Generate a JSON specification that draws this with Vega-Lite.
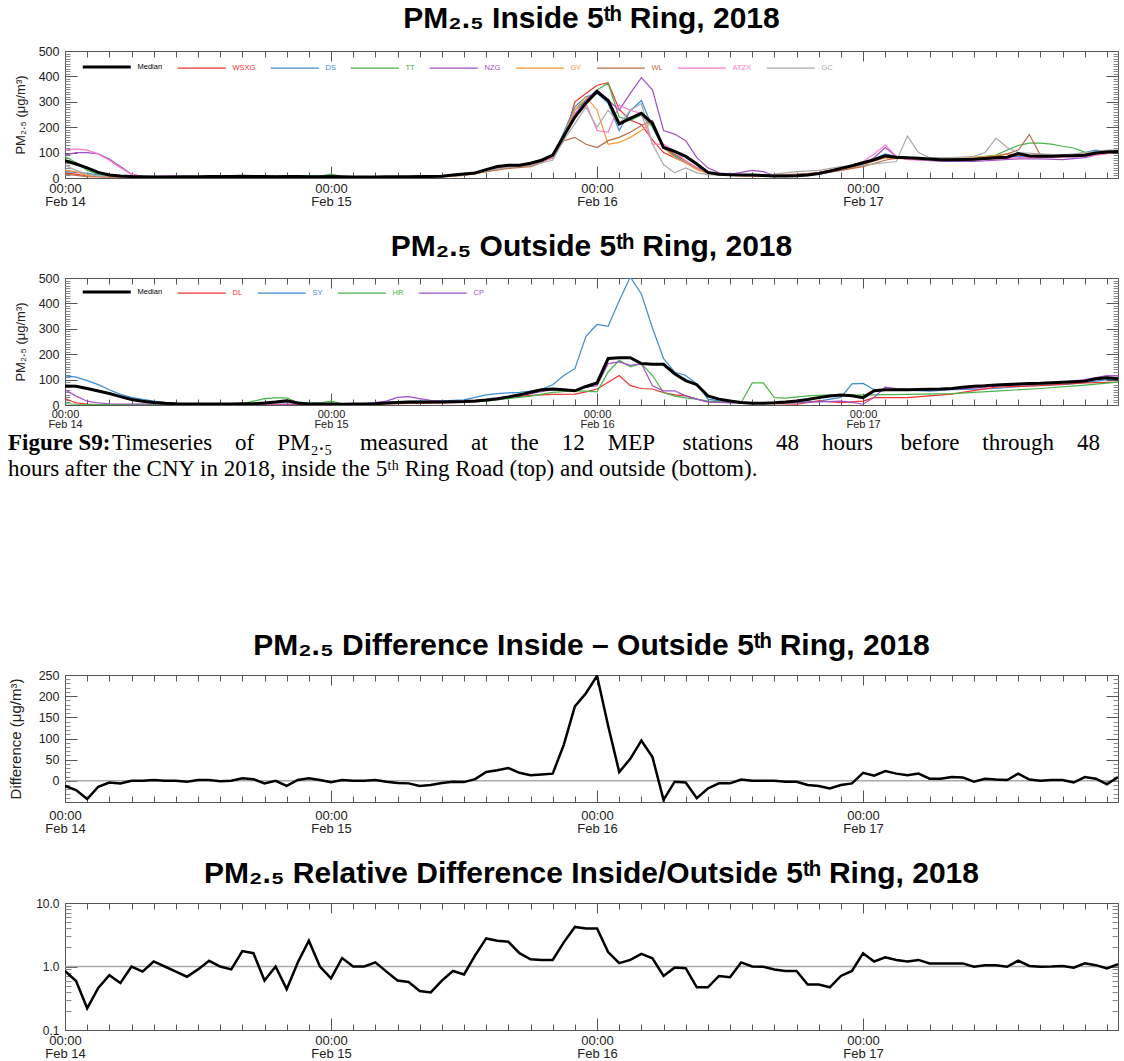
{
"$schema":"https://vega.github.io/schema/vega-lite/v6.json",
"padding":{"left":7,"top":3,"right":6,"bottom":0},
"spacing":22,
"config":{
 "view":{"stroke":"#555","strokeWidth":1},
 "axis":{"labelFont":"Liberation Sans","titleFont":"Liberation Sans","labelColor":"#222","titleColor":"#222","titleFontWeight":"normal","tickColor":"#555","domain":false,"grid":false,"labelFlush":false,"labelOverlap":false},
 "title":{"font":"Liberation Sans","fontSize":30,"fontWeight":"bold","color":"#000","anchor":"middle","frame":"group","offset":14},
 "legend":{"labelFont":"Liberation Sans"}
},
"datasets":{
"inside":[
{"s":"Median","h":0,"v":68},{"s":"Median","h":1,"v":55},{"s":"Median","h":2,"v":40},{"s":"Median","h":3,"v":22},{"s":"Median","h":4,"v":12},{"s":"Median","h":5,"v":8},{"s":"Median","h":6,"v":6},{"s":"Median","h":7,"v":5},{"s":"Median","h":8,"v":4},{"s":"Median","h":9,"v":4},
{"s":"Median","h":10,"v":4},{"s":"Median","h":11,"v":5},{"s":"Median","h":12,"v":5},{"s":"Median","h":13,"v":6},{"s":"Median","h":14,"v":6},{"s":"Median","h":15,"v":6},{"s":"Median","h":16,"v":7},{"s":"Median","h":17,"v":6},{"s":"Median","h":18,"v":6},{"s":"Median","h":19,"v":5},
{"s":"Median","h":20,"v":6},{"s":"Median","h":21,"v":6},{"s":"Median","h":22,"v":5},{"s":"Median","h":23,"v":5},{"s":"Median","h":24,"v":6},{"s":"Median","h":25,"v":5},{"s":"Median","h":26,"v":4},{"s":"Median","h":27,"v":4},{"s":"Median","h":28,"v":4},{"s":"Median","h":29,"v":5},
{"s":"Median","h":30,"v":5},{"s":"Median","h":31,"v":5},{"s":"Median","h":32,"v":6},{"s":"Median","h":33,"v":6},{"s":"Median","h":34,"v":7},{"s":"Median","h":35,"v":12},{"s":"Median","h":36,"v":16},{"s":"Median","h":37,"v":20},{"s":"Median","h":38,"v":33},{"s":"Median","h":39,"v":45},
{"s":"Median","h":40,"v":50},{"s":"Median","h":41,"v":50},{"s":"Median","h":42,"v":58},{"s":"Median","h":43,"v":70},{"s":"Median","h":44,"v":90},{"s":"Median","h":45,"v":165},{"s":"Median","h":46,"v":240},{"s":"Median","h":47,"v":295},{"s":"Median","h":48,"v":340},{"s":"Median","h":49,"v":305},
{"s":"Median","h":50,"v":213},{"s":"Median","h":51,"v":235},{"s":"Median","h":52,"v":255},{"s":"Median","h":53,"v":215},{"s":"Median","h":54,"v":120},{"s":"Median","h":55,"v":105},{"s":"Median","h":56,"v":85},{"s":"Median","h":57,"v":55},{"s":"Median","h":58,"v":22},{"s":"Median","h":59,"v":15},
{"s":"Median","h":60,"v":13},{"s":"Median","h":61,"v":12},{"s":"Median","h":62,"v":12},{"s":"Median","h":63,"v":10},{"s":"Median","h":64,"v":8},{"s":"Median","h":65,"v":8},{"s":"Median","h":66,"v":9},{"s":"Median","h":67,"v":12},{"s":"Median","h":68,"v":18},{"s":"Median","h":69,"v":27},
{"s":"Median","h":70,"v":38},{"s":"Median","h":71,"v":48},{"s":"Median","h":72,"v":60},{"s":"Median","h":73,"v":72},{"s":"Median","h":74,"v":87},{"s":"Median","h":75,"v":82},{"s":"Median","h":76,"v":80},{"s":"Median","h":77,"v":78},{"s":"Median","h":78,"v":75},{"s":"Median","h":79,"v":72},
{"s":"Median","h":80,"v":72},{"s":"Median","h":81,"v":73},{"s":"Median","h":82,"v":74},{"s":"Median","h":83,"v":77},{"s":"Median","h":84,"v":80},{"s":"Median","h":85,"v":82},{"s":"Median","h":86,"v":96},{"s":"Median","h":87,"v":87},{"s":"Median","h":88,"v":86},{"s":"Median","h":89,"v":86},
{"s":"Median","h":90,"v":88},{"s":"Median","h":91,"v":88},{"s":"Median","h":92,"v":90},{"s":"Median","h":93,"v":98},{"s":"Median","h":94,"v":102},{"s":"Median","h":95,"v":104},
{"s":"WSXG","h":0,"v":20},{"s":"WSXG","h":1,"v":15},{"s":"WSXG","h":2,"v":8},{"s":"WSXG","h":3,"v":5},{"s":"WSXG","h":6,"v":3},{"s":"WSXG","h":12,"v":4},{"s":"WSXG","h":18,"v":5},{"s":"WSXG","h":24,"v":5},{"s":"WSXG","h":30,"v":4},{"s":"WSXG","h":34,"v":6},{"s":"WSXG","h":36,"v":12},{"s":"WSXG","h":37,"v":18},{"s":"WSXG","h":38,"v":28},{"s":"WSXG","h":39,"v":40},{"s":"WSXG","h":40,"v":45},{"s":"WSXG","h":41,"v":48},{"s":"WSXG","h":42,"v":55},{"s":"WSXG","h":43,"v":65},{"s":"WSXG","h":44,"v":80},{"s":"WSXG","h":45,"v":150},{"s":"WSXG","h":46,"v":300},{"s":"WSXG","h":47,"v":333},{"s":"WSXG","h":48,"v":365},{"s":"WSXG","h":49,"v":375},{"s":"WSXG","h":50,"v":270},{"s":"WSXG","h":51,"v":228},{"s":"WSXG","h":52,"v":210},{"s":"WSXG","h":53,"v":150},{"s":"WSXG","h":54,"v":100},{"s":"WSXG","h":55,"v":80},{"s":"WSXG","h":56,"v":60},{"s":"WSXG","h":57,"v":40},{"s":"WSXG","h":58,"v":20},{"s":"WSXG","h":59,"v":12},{"s":"WSXG","h":60,"v":10},{"s":"WSXG","h":62,"v":8},{"s":"WSXG","h":64,"v":6},{"s":"WSXG","h":66,"v":8},{"s":"WSXG","h":68,"v":22},{"s":"WSXG","h":70,"v":40},{"s":"WSXG","h":72,"v":55},{"s":"WSXG","h":74,"v":80},{"s":"WSXG","h":75,"v":80},{"s":"WSXG","h":76,"v":75},{"s":"WSXG","h":78,"v":70},{"s":"WSXG","h":80,"v":65},{"s":"WSXG","h":82,"v":72},{"s":"WSXG","h":84,"v":80},{"s":"WSXG","h":86,"v":88},{"s":"WSXG","h":88,"v":90},{"s":"WSXG","h":90,"v":85},{"s":"WSXG","h":92,"v":90},{"s":"WSXG","h":94,"v":100},{"s":"WSXG","h":95,"v":105},
{"s":"DS","h":0,"v":25},{"s":"DS","h":1,"v":22},{"s":"DS","h":2,"v":18},{"s":"DS","h":3,"v":12},{"s":"DS","h":4,"v":8},{"s":"DS","h":5,"v":5},{"s":"DS","h":8,"v":3},{"s":"DS","h":12,"v":4},{"s":"DS","h":18,"v":6},{"s":"DS","h":20,"v":8},{"s":"DS","h":24,"v":5},{"s":"DS","h":30,"v":4},{"s":"DS","h":34,"v":6},{"s":"DS","h":36,"v":12},{"s":"DS","h":38,"v":30},{"s":"DS","h":40,"v":45},{"s":"DS","h":42,"v":55},{"s":"DS","h":44,"v":85},{"s":"DS","h":45,"v":180},{"s":"DS","h":46,"v":280},{"s":"DS","h":47,"v":320},{"s":"DS","h":48,"v":333},{"s":"DS","h":49,"v":295},{"s":"DS","h":50,"v":187},{"s":"DS","h":51,"v":265},{"s":"DS","h":52,"v":305},{"s":"DS","h":53,"v":200},{"s":"DS","h":54,"v":120},{"s":"DS","h":55,"v":87},{"s":"DS","h":56,"v":60},{"s":"DS","h":57,"v":40},{"s":"DS","h":58,"v":18},{"s":"DS","h":60,"v":12},{"s":"DS","h":62,"v":10},{"s":"DS","h":64,"v":8},{"s":"DS","h":66,"v":10},{"s":"DS","h":68,"v":20},{"s":"DS","h":70,"v":35},{"s":"DS","h":72,"v":55},{"s":"DS","h":74,"v":95},{"s":"DS","h":75,"v":85},{"s":"DS","h":76,"v":75},{"s":"DS","h":78,"v":70},{"s":"DS","h":80,"v":75},{"s":"DS","h":82,"v":75},{"s":"DS","h":84,"v":80},{"s":"DS","h":86,"v":85},{"s":"DS","h":88,"v":80},{"s":"DS","h":90,"v":85},{"s":"DS","h":92,"v":100},{"s":"DS","h":93,"v":110},{"s":"DS","h":94,"v":105},{"s":"DS","h":95,"v":108},
{"s":"TT","h":0,"v":85},{"s":"TT","h":1,"v":60},{"s":"TT","h":2,"v":30},{"s":"TT","h":3,"v":15},{"s":"TT","h":4,"v":8},{"s":"TT","h":5,"v":5},{"s":"TT","h":8,"v":3},{"s":"TT","h":12,"v":4},{"s":"TT","h":18,"v":5},{"s":"TT","h":23,"v":8},{"s":"TT","h":24,"v":15},{"s":"TT","h":25,"v":6},{"s":"TT","h":30,"v":4},{"s":"TT","h":34,"v":6},{"s":"TT","h":36,"v":12},{"s":"TT","h":38,"v":28},{"s":"TT","h":40,"v":45},{"s":"TT","h":42,"v":52},{"s":"TT","h":44,"v":85},{"s":"TT","h":45,"v":170},{"s":"TT","h":46,"v":267},{"s":"TT","h":47,"v":307},{"s":"TT","h":48,"v":347},{"s":"TT","h":49,"v":373},{"s":"TT","h":50,"v":240},{"s":"TT","h":51,"v":227},{"s":"TT","h":52,"v":247},{"s":"TT","h":53,"v":200},{"s":"TT","h":54,"v":120},{"s":"TT","h":55,"v":93},{"s":"TT","h":56,"v":67},{"s":"TT","h":57,"v":40},{"s":"TT","h":58,"v":20},{"s":"TT","h":60,"v":12},{"s":"TT","h":62,"v":10},{"s":"TT","h":64,"v":8},{"s":"TT","h":66,"v":10},{"s":"TT","h":68,"v":20},{"s":"TT","h":70,"v":38},{"s":"TT","h":72,"v":55},{"s":"TT","h":74,"v":85},{"s":"TT","h":75,"v":80},{"s":"TT","h":76,"v":78},{"s":"TT","h":78,"v":72},{"s":"TT","h":80,"v":70},{"s":"TT","h":82,"v":80},{"s":"TT","h":84,"v":90},{"s":"TT","h":85,"v":110},{"s":"TT","h":86,"v":128},{"s":"TT","h":87,"v":137},{"s":"TT","h":88,"v":137},{"s":"TT","h":89,"v":133},{"s":"TT","h":90,"v":125},{"s":"TT","h":91,"v":118},{"s":"TT","h":92,"v":102},{"s":"TT","h":93,"v":95},{"s":"TT","h":94,"v":100},{"s":"TT","h":95,"v":103},
{"s":"NZG","h":0,"v":90},{"s":"NZG","h":1,"v":100},{"s":"NZG","h":2,"v":100},{"s":"NZG","h":3,"v":95},{"s":"NZG","h":4,"v":75},{"s":"NZG","h":5,"v":45},{"s":"NZG","h":6,"v":15},{"s":"NZG","h":7,"v":6},{"s":"NZG","h":10,"v":8},{"s":"NZG","h":12,"v":5},{"s":"NZG","h":18,"v":5},{"s":"NZG","h":24,"v":5},{"s":"NZG","h":30,"v":6},{"s":"NZG","h":33,"v":7},{"s":"NZG","h":34,"v":8},{"s":"NZG","h":36,"v":14},{"s":"NZG","h":38,"v":30},{"s":"NZG","h":40,"v":45},{"s":"NZG","h":42,"v":52},{"s":"NZG","h":44,"v":80},{"s":"NZG","h":45,"v":160},{"s":"NZG","h":46,"v":253},{"s":"NZG","h":47,"v":307},{"s":"NZG","h":48,"v":347},{"s":"NZG","h":49,"v":307},{"s":"NZG","h":50,"v":267},{"s":"NZG","h":51,"v":333},{"s":"NZG","h":52,"v":395},{"s":"NZG","h":53,"v":347},{"s":"NZG","h":54,"v":187},{"s":"NZG","h":55,"v":173},{"s":"NZG","h":56,"v":147},{"s":"NZG","h":57,"v":80},{"s":"NZG","h":58,"v":40},{"s":"NZG","h":59,"v":20},{"s":"NZG","h":60,"v":15},{"s":"NZG","h":61,"v":22},{"s":"NZG","h":62,"v":30},{"s":"NZG","h":63,"v":25},{"s":"NZG","h":64,"v":10},{"s":"NZG","h":66,"v":8},{"s":"NZG","h":68,"v":15},{"s":"NZG","h":70,"v":30},{"s":"NZG","h":72,"v":55},{"s":"NZG","h":73,"v":80},{"s":"NZG","h":74,"v":120},{"s":"NZG","h":75,"v":85},{"s":"NZG","h":76,"v":75},{"s":"NZG","h":78,"v":68},{"s":"NZG","h":80,"v":65},{"s":"NZG","h":82,"v":65},{"s":"NZG","h":84,"v":70},{"s":"NZG","h":86,"v":75},{"s":"NZG","h":88,"v":75},{"s":"NZG","h":90,"v":72},{"s":"NZG","h":92,"v":80},{"s":"NZG","h":94,"v":100},{"s":"NZG","h":95,"v":105},
{"s":"GY","h":0,"v":30},{"s":"GY","h":1,"v":25},{"s":"GY","h":2,"v":10},{"s":"GY","h":3,"v":5},{"s":"GY","h":6,"v":3},{"s":"GY","h":12,"v":4},{"s":"GY","h":18,"v":5},{"s":"GY","h":24,"v":4},{"s":"GY","h":28,"v":3},{"s":"GY","h":32,"v":3},{"s":"GY","h":34,"v":5},{"s":"GY","h":36,"v":10},{"s":"GY","h":38,"v":25},{"s":"GY","h":40,"v":40},{"s":"GY","h":42,"v":50},{"s":"GY","h":44,"v":80},{"s":"GY","h":45,"v":170},{"s":"GY","h":46,"v":267},{"s":"GY","h":47,"v":320},{"s":"GY","h":48,"v":267},{"s":"GY","h":49,"v":133},{"s":"GY","h":50,"v":140},{"s":"GY","h":51,"v":160},{"s":"GY","h":52,"v":187},{"s":"GY","h":53,"v":220},{"s":"GY","h":54,"v":120},{"s":"GY","h":55,"v":80},{"s":"GY","h":56,"v":60},{"s":"GY","h":57,"v":33},{"s":"GY","h":58,"v":18},{"s":"GY","h":60,"v":10},{"s":"GY","h":62,"v":8},{"s":"GY","h":64,"v":8},{"s":"GY","h":66,"v":10},{"s":"GY","h":68,"v":18},{"s":"GY","h":70,"v":32},{"s":"GY","h":71,"v":40},{"s":"GY","h":72,"v":48},{"s":"GY","h":73,"v":70},{"s":"GY","h":74,"v":80},{"s":"GY","h":75,"v":75},{"s":"GY","h":76,"v":78},{"s":"GY","h":78,"v":72},{"s":"GY","h":80,"v":75},{"s":"GY","h":82,"v":80},{"s":"GY","h":84,"v":88},{"s":"GY","h":85,"v":95},{"s":"GY","h":86,"v":90},{"s":"GY","h":88,"v":85},{"s":"GY","h":90,"v":88},{"s":"GY","h":92,"v":95},{"s":"GY","h":94,"v":100},{"s":"GY","h":95,"v":104},
{"s":"WL","h":0,"v":15},{"s":"WL","h":1,"v":10},{"s":"WL","h":2,"v":5},{"s":"WL","h":6,"v":3},{"s":"WL","h":12,"v":5},{"s":"WL","h":18,"v":7},{"s":"WL","h":24,"v":5},{"s":"WL","h":30,"v":4},{"s":"WL","h":34,"v":6},{"s":"WL","h":36,"v":10},{"s":"WL","h":38,"v":25},{"s":"WL","h":40,"v":38},{"s":"WL","h":42,"v":45},{"s":"WL","h":43,"v":60},{"s":"WL","h":44,"v":95},{"s":"WL","h":45,"v":147},{"s":"WL","h":46,"v":160},{"s":"WL","h":47,"v":133},{"s":"WL","h":48,"v":120},{"s":"WL","h":49,"v":147},{"s":"WL","h":50,"v":160},{"s":"WL","h":51,"v":180},{"s":"WL","h":52,"v":207},{"s":"WL","h":53,"v":227},{"s":"WL","h":54,"v":120},{"s":"WL","h":55,"v":93},{"s":"WL","h":56,"v":67},{"s":"WL","h":57,"v":40},{"s":"WL","h":58,"v":20},{"s":"WL","h":60,"v":12},{"s":"WL","h":62,"v":10},{"s":"WL","h":64,"v":10},{"s":"WL","h":66,"v":15},{"s":"WL","h":68,"v":20},{"s":"WL","h":70,"v":30},{"s":"WL","h":72,"v":45},{"s":"WL","h":74,"v":70},{"s":"WL","h":75,"v":78},{"s":"WL","h":76,"v":75},{"s":"WL","h":78,"v":72},{"s":"WL","h":80,"v":70},{"s":"WL","h":82,"v":75},{"s":"WL","h":84,"v":85},{"s":"WL","h":85,"v":95},{"s":"WL","h":86,"v":110},{"s":"WL","h":87,"v":171},{"s":"WL","h":88,"v":90},{"s":"WL","h":89,"v":85},{"s":"WL","h":90,"v":85},{"s":"WL","h":92,"v":92},{"s":"WL","h":94,"v":100},{"s":"WL","h":95,"v":105},
{"s":"ATZX","h":0,"v":110},{"s":"ATZX","h":1,"v":115},{"s":"ATZX","h":2,"v":110},{"s":"ATZX","h":3,"v":95},{"s":"ATZX","h":4,"v":70},{"s":"ATZX","h":5,"v":40},{"s":"ATZX","h":6,"v":15},{"s":"ATZX","h":7,"v":5},{"s":"ATZX","h":12,"v":4},{"s":"ATZX","h":18,"v":5},{"s":"ATZX","h":24,"v":5},{"s":"ATZX","h":30,"v":4},{"s":"ATZX","h":34,"v":6},{"s":"ATZX","h":36,"v":12},{"s":"ATZX","h":38,"v":30},{"s":"ATZX","h":40,"v":45},{"s":"ATZX","h":42,"v":52},{"s":"ATZX","h":44,"v":80},{"s":"ATZX","h":45,"v":165},{"s":"ATZX","h":46,"v":253},{"s":"ATZX","h":47,"v":293},{"s":"ATZX","h":48,"v":187},{"s":"ATZX","h":49,"v":180},{"s":"ATZX","h":50,"v":287},{"s":"ATZX","h":51,"v":267},{"s":"ATZX","h":52,"v":253},{"s":"ATZX","h":53,"v":133},{"s":"ATZX","h":54,"v":133},{"s":"ATZX","h":55,"v":107},{"s":"ATZX","h":56,"v":67},{"s":"ATZX","h":57,"v":40},{"s":"ATZX","h":58,"v":20},{"s":"ATZX","h":60,"v":12},{"s":"ATZX","h":62,"v":10},{"s":"ATZX","h":64,"v":8},{"s":"ATZX","h":66,"v":10},{"s":"ATZX","h":68,"v":20},{"s":"ATZX","h":70,"v":35},{"s":"ATZX","h":72,"v":65},{"s":"ATZX","h":73,"v":95},{"s":"ATZX","h":74,"v":130},{"s":"ATZX","h":75,"v":85},{"s":"ATZX","h":76,"v":72},{"s":"ATZX","h":78,"v":70},{"s":"ATZX","h":80,"v":72},{"s":"ATZX","h":82,"v":70},{"s":"ATZX","h":84,"v":75},{"s":"ATZX","h":86,"v":80},{"s":"ATZX","h":88,"v":80},{"s":"ATZX","h":90,"v":82},{"s":"ATZX","h":92,"v":85},{"s":"ATZX","h":94,"v":95},{"s":"ATZX","h":95,"v":105},
{"s":"GC","h":0,"v":50},{"s":"GC","h":1,"v":30},{"s":"GC","h":2,"v":15},{"s":"GC","h":3,"v":8},{"s":"GC","h":6,"v":5},{"s":"GC","h":12,"v":5},{"s":"GC","h":18,"v":6},{"s":"GC","h":24,"v":5},{"s":"GC","h":30,"v":4},{"s":"GC","h":34,"v":6},{"s":"GC","h":36,"v":12},{"s":"GC","h":38,"v":28},{"s":"GC","h":40,"v":42},{"s":"GC","h":42,"v":50},{"s":"GC","h":44,"v":70},{"s":"GC","h":45,"v":150},{"s":"GC","h":46,"v":213},{"s":"GC","h":47,"v":280},{"s":"GC","h":48,"v":200},{"s":"GC","h":49,"v":267},{"s":"GC","h":50,"v":213},{"s":"GC","h":51,"v":267},{"s":"GC","h":52,"v":293},{"s":"GC","h":53,"v":133},{"s":"GC","h":54,"v":53},{"s":"GC","h":55,"v":20},{"s":"GC","h":56,"v":40},{"s":"GC","h":57,"v":20},{"s":"GC","h":58,"v":13},{"s":"GC","h":60,"v":10},{"s":"GC","h":62,"v":12},{"s":"GC","h":64,"v":15},{"s":"GC","h":66,"v":25},{"s":"GC","h":68,"v":30},{"s":"GC","h":70,"v":45},{"s":"GC","h":72,"v":50},{"s":"GC","h":74,"v":60},{"s":"GC","h":75,"v":65},{"s":"GC","h":76,"v":165},{"s":"GC","h":77,"v":100},{"s":"GC","h":78,"v":80},{"s":"GC","h":80,"v":80},{"s":"GC","h":82,"v":85},{"s":"GC","h":83,"v":100},{"s":"GC","h":84,"v":157},{"s":"GC","h":85,"v":120},{"s":"GC","h":86,"v":100},{"s":"GC","h":88,"v":95},{"s":"GC","h":90,"v":90},{"s":"GC","h":92,"v":100},{"s":"GC","h":94,"v":110},{"s":"GC","h":95,"v":110}
],
"outside":[
{"s":"Median","h":0,"v":75},{"s":"Median","h":1,"v":74},{"s":"Median","h":2,"v":65},{"s":"Median","h":3,"v":55},{"s":"Median","h":4,"v":45},{"s":"Median","h":5,"v":33},{"s":"Median","h":6,"v":22},{"s":"Median","h":7,"v":15},{"s":"Median","h":8,"v":10},{"s":"Median","h":9,"v":7},
{"s":"Median","h":10,"v":5},{"s":"Median","h":11,"v":4},{"s":"Median","h":12,"v":4},{"s":"Median","h":13,"v":4},{"s":"Median","h":14,"v":4},{"s":"Median","h":15,"v":4},{"s":"Median","h":16,"v":5},{"s":"Median","h":17,"v":5},{"s":"Median","h":18,"v":8},{"s":"Median","h":19,"v":12},
{"s":"Median","h":20,"v":17},{"s":"Median","h":21,"v":8},{"s":"Median","h":22,"v":4},{"s":"Median","h":23,"v":4},{"s":"Median","h":24,"v":4},{"s":"Median","h":25,"v":3},{"s":"Median","h":26,"v":4},{"s":"Median","h":27,"v":4},{"s":"Median","h":28,"v":5},{"s":"Median","h":29,"v":8},
{"s":"Median","h":30,"v":10},{"s":"Median","h":31,"v":12},{"s":"Median","h":32,"v":12},{"s":"Median","h":33,"v":12},{"s":"Median","h":34,"v":12},{"s":"Median","h":35,"v":13},{"s":"Median","h":36,"v":14},{"s":"Median","h":37,"v":16},{"s":"Median","h":38,"v":20},{"s":"Median","h":39,"v":25},
{"s":"Median","h":40,"v":32},{"s":"Median","h":41,"v":40},{"s":"Median","h":42,"v":50},{"s":"Median","h":43,"v":60},{"s":"Median","h":44,"v":63},{"s":"Median","h":45,"v":60},{"s":"Median","h":46,"v":56},{"s":"Median","h":47,"v":73},{"s":"Median","h":48,"v":87},{"s":"Median","h":49,"v":183},
{"s":"Median","h":50,"v":186},{"s":"Median","h":51,"v":186},{"s":"Median","h":52,"v":163},{"s":"Median","h":53,"v":160},{"s":"Median","h":54,"v":160},{"s":"Median","h":55,"v":123},{"s":"Median","h":56,"v":96},{"s":"Median","h":57,"v":80},{"s":"Median","h":58,"v":36},{"s":"Median","h":59,"v":23},
{"s":"Median","h":60,"v":16},{"s":"Median","h":61,"v":10},{"s":"Median","h":62,"v":7},{"s":"Median","h":63,"v":7},{"s":"Median","h":64,"v":9},{"s":"Median","h":65,"v":12},{"s":"Median","h":66,"v":16},{"s":"Median","h":67,"v":22},{"s":"Median","h":68,"v":29},{"s":"Median","h":69,"v":35},
{"s":"Median","h":70,"v":39},{"s":"Median","h":71,"v":36},{"s":"Median","h":72,"v":29},{"s":"Median","h":73,"v":56},{"s":"Median","h":74,"v":60},{"s":"Median","h":75,"v":60},{"s":"Median","h":76,"v":60},{"s":"Median","h":77,"v":61},{"s":"Median","h":78,"v":62},{"s":"Median","h":79,"v":63},
{"s":"Median","h":80,"v":65},{"s":"Median","h":81,"v":70},{"s":"Median","h":82,"v":74},{"s":"Median","h":83,"v":76},{"s":"Median","h":84,"v":79},{"s":"Median","h":85,"v":81},{"s":"Median","h":86,"v":83},{"s":"Median","h":87,"v":85},{"s":"Median","h":88,"v":86},{"s":"Median","h":89,"v":88},
{"s":"Median","h":90,"v":90},{"s":"Median","h":91,"v":92},{"s":"Median","h":92,"v":94},{"s":"Median","h":93,"v":103},{"s":"Median","h":94,"v":107},{"s":"Median","h":95,"v":103},
{"s":"SY","h":0,"v":115},{"s":"SY","h":1,"v":110},{"s":"SY","h":2,"v":96},{"s":"SY","h":3,"v":80},{"s":"SY","h":4,"v":60},{"s":"SY","h":5,"v":42},{"s":"SY","h":6,"v":30},{"s":"SY","h":7,"v":22},{"s":"SY","h":8,"v":15},{"s":"SY","h":9,"v":10},{"s":"SY","h":10,"v":5},{"s":"SY","h":12,"v":3},{"s":"SY","h":16,"v":4},{"s":"SY","h":18,"v":8},{"s":"SY","h":20,"v":12},{"s":"SY","h":22,"v":8},{"s":"SY","h":24,"v":5},{"s":"SY","h":26,"v":4},{"s":"SY","h":28,"v":8},{"s":"SY","h":30,"v":12},{"s":"SY","h":32,"v":15},{"s":"SY","h":34,"v":16},{"s":"SY","h":36,"v":20},{"s":"SY","h":37,"v":30},{"s":"SY","h":38,"v":40},{"s":"SY","h":39,"v":45},{"s":"SY","h":40,"v":48},{"s":"SY","h":41,"v":50},{"s":"SY","h":42,"v":55},{"s":"SY","h":43,"v":62},{"s":"SY","h":44,"v":80},{"s":"SY","h":45,"v":116},{"s":"SY","h":46,"v":143},{"s":"SY","h":47,"v":270},{"s":"SY","h":48,"v":317},{"s":"SY","h":49,"v":310},{"s":"SY","h":50,"v":410},{"s":"SY","h":51,"v":504},{"s":"SY","h":52,"v":437},{"s":"SY","h":53,"v":303},{"s":"SY","h":54,"v":183},{"s":"SY","h":55,"v":130},{"s":"SY","h":56,"v":116},{"s":"SY","h":57,"v":83},{"s":"SY","h":58,"v":23},{"s":"SY","h":59,"v":16},{"s":"SY","h":60,"v":12},{"s":"SY","h":62,"v":8},{"s":"SY","h":64,"v":6},{"s":"SY","h":66,"v":8},{"s":"SY","h":68,"v":15},{"s":"SY","h":70,"v":30},{"s":"SY","h":71,"v":83},{"s":"SY","h":72,"v":85},{"s":"SY","h":73,"v":60},{"s":"SY","h":74,"v":58},{"s":"SY","h":76,"v":58},{"s":"SY","h":78,"v":55},{"s":"SY","h":80,"v":60},{"s":"SY","h":82,"v":62},{"s":"SY","h":84,"v":65},{"s":"SY","h":86,"v":72},{"s":"SY","h":88,"v":78},{"s":"SY","h":90,"v":80},{"s":"SY","h":92,"v":88},{"s":"SY","h":94,"v":100},{"s":"SY","h":95,"v":105},
{"s":"DL","h":0,"v":25},{"s":"DL","h":1,"v":8},{"s":"DL","h":2,"v":4},{"s":"DL","h":3,"v":2},{"s":"DL","h":6,"v":2},{"s":"DL","h":12,"v":2},{"s":"DL","h":18,"v":3},{"s":"DL","h":24,"v":2},{"s":"DL","h":30,"v":5},{"s":"DL","h":34,"v":8},{"s":"DL","h":36,"v":10},{"s":"DL","h":38,"v":15},{"s":"DL","h":40,"v":30},{"s":"DL","h":42,"v":38},{"s":"DL","h":44,"v":42},{"s":"DL","h":46,"v":43},{"s":"DL","h":47,"v":52},{"s":"DL","h":48,"v":63},{"s":"DL","h":49,"v":90},{"s":"DL","h":50,"v":116},{"s":"DL","h":51,"v":76},{"s":"DL","h":52,"v":65},{"s":"DL","h":53,"v":63},{"s":"DL","h":54,"v":49},{"s":"DL","h":55,"v":40},{"s":"DL","h":56,"v":36},{"s":"DL","h":57,"v":23},{"s":"DL","h":58,"v":12},{"s":"DL","h":60,"v":10},{"s":"DL","h":62,"v":8},{"s":"DL","h":64,"v":5},{"s":"DL","h":66,"v":3},{"s":"DL","h":68,"v":16},{"s":"DL","h":70,"v":9},{"s":"DL","h":71,"v":12},{"s":"DL","h":72,"v":15},{"s":"DL","h":73,"v":29},{"s":"DL","h":76,"v":29},{"s":"DL","h":80,"v":43},{"s":"DL","h":84,"v":70},{"s":"DL","h":88,"v":76},{"s":"DL","h":92,"v":87},{"s":"DL","h":95,"v":90},
{"s":"HR","h":0,"v":5},{"s":"HR","h":1,"v":3},{"s":"HR","h":4,"v":2},{"s":"HR","h":12,"v":3},{"s":"HR","h":16,"v":5},{"s":"HR","h":17,"v":15},{"s":"HR","h":18,"v":25},{"s":"HR","h":19,"v":28},{"s":"HR","h":20,"v":28},{"s":"HR","h":21,"v":10},{"s":"HR","h":22,"v":5},{"s":"HR","h":23,"v":8},{"s":"HR","h":24,"v":15},{"s":"HR","h":25,"v":5},{"s":"HR","h":28,"v":5},{"s":"HR","h":30,"v":8},{"s":"HR","h":34,"v":10},{"s":"HR","h":36,"v":12},{"s":"HR","h":38,"v":15},{"s":"HR","h":40,"v":25},{"s":"HR","h":42,"v":35},{"s":"HR","h":44,"v":50},{"s":"HR","h":46,"v":56},{"s":"HR","h":47,"v":55},{"s":"HR","h":48,"v":52},{"s":"HR","h":49,"v":130},{"s":"HR","h":50,"v":176},{"s":"HR","h":51,"v":150},{"s":"HR","h":52,"v":163},{"s":"HR","h":53,"v":116},{"s":"HR","h":54,"v":49},{"s":"HR","h":55,"v":35},{"s":"HR","h":56,"v":28},{"s":"HR","h":57,"v":23},{"s":"HR","h":58,"v":15},{"s":"HR","h":60,"v":9},{"s":"HR","h":61,"v":9},{"s":"HR","h":62,"v":87},{"s":"HR","h":63,"v":87},{"s":"HR","h":64,"v":29},{"s":"HR","h":65,"v":27},{"s":"HR","h":67,"v":36},{"s":"HR","h":69,"v":40},{"s":"HR","h":71,"v":39},{"s":"HR","h":73,"v":40},{"s":"HR","h":76,"v":42},{"s":"HR","h":80,"v":45},{"s":"HR","h":84,"v":55},{"s":"HR","h":88,"v":65},{"s":"HR","h":92,"v":78},{"s":"HR","h":95,"v":90},
{"s":"CP","h":0,"v":60},{"s":"CP","h":1,"v":35},{"s":"CP","h":2,"v":15},{"s":"CP","h":3,"v":8},{"s":"CP","h":4,"v":5},{"s":"CP","h":6,"v":4},{"s":"CP","h":9,"v":5},{"s":"CP","h":12,"v":3},{"s":"CP","h":18,"v":4},{"s":"CP","h":24,"v":3},{"s":"CP","h":27,"v":5},{"s":"CP","h":29,"v":15},{"s":"CP","h":30,"v":30},{"s":"CP","h":31,"v":33},{"s":"CP","h":32,"v":25},{"s":"CP","h":33,"v":18},{"s":"CP","h":34,"v":15},{"s":"CP","h":36,"v":14},{"s":"CP","h":38,"v":20},{"s":"CP","h":40,"v":30},{"s":"CP","h":42,"v":45},{"s":"CP","h":44,"v":60},{"s":"CP","h":46,"v":56},{"s":"CP","h":47,"v":70},{"s":"CP","h":48,"v":76},{"s":"CP","h":49,"v":163},{"s":"CP","h":50,"v":170},{"s":"CP","h":51,"v":156},{"s":"CP","h":52,"v":163},{"s":"CP","h":53,"v":76},{"s":"CP","h":54,"v":56},{"s":"CP","h":55,"v":56},{"s":"CP","h":56,"v":36},{"s":"CP","h":57,"v":23},{"s":"CP","h":58,"v":12},{"s":"CP","h":60,"v":8},{"s":"CP","h":62,"v":7},{"s":"CP","h":64,"v":8},{"s":"CP","h":66,"v":10},{"s":"CP","h":68,"v":12},{"s":"CP","h":70,"v":15},{"s":"CP","h":71,"v":10},{"s":"CP","h":72,"v":3},{"s":"CP","h":73,"v":30},{"s":"CP","h":74,"v":70},{"s":"CP","h":75,"v":65},{"s":"CP","h":76,"v":62},{"s":"CP","h":78,"v":60},{"s":"CP","h":80,"v":62},{"s":"CP","h":82,"v":66},{"s":"CP","h":84,"v":75},{"s":"CP","h":86,"v":78},{"s":"CP","h":88,"v":85},{"s":"CP","h":90,"v":90},{"s":"CP","h":92,"v":100},{"s":"CP","h":94,"v":116},{"s":"CP","h":95,"v":115}
],
"diff":[
{"h":0,"v":-12},{"h":1,"v":-22},{"h":2,"v":-43},{"h":3,"v":-14},{"h":4,"v":-4},{"h":5,"v":-6},{"h":6,"v":0},{"h":7,"v":0},{"h":8,"v":2},{"h":9,"v":0},
{"h":10,"v":0},{"h":11,"v":-2},{"h":12,"v":2},{"h":13,"v":2},{"h":14,"v":-1},{"h":15,"v":0},{"h":16,"v":6},{"h":17,"v":4},{"h":18,"v":-6},{"h":19,"v":0},
{"h":20,"v":-12},{"h":21,"v":2},{"h":22,"v":6},{"h":23,"v":2},{"h":24,"v":-3},{"h":25,"v":2},{"h":26,"v":0},{"h":27,"v":0},{"h":28,"v":2},{"h":29,"v":-2},
{"h":30,"v":-5},{"h":31,"v":-6},{"h":32,"v":-12},{"h":33,"v":-10},{"h":34,"v":-5},{"h":35,"v":-2},{"h":36,"v":-3},{"h":37,"v":4},{"h":38,"v":21},{"h":39,"v":25},
{"h":40,"v":30},{"h":41,"v":19},{"h":42,"v":13},{"h":43,"v":15},{"h":44,"v":17},{"h":45,"v":85},{"h":46,"v":176},{"h":47,"v":207},{"h":48,"v":248},{"h":49,"v":130},
{"h":50,"v":21},{"h":51,"v":52},{"h":52,"v":95},{"h":53,"v":56},{"h":54,"v":-45},{"h":55,"v":-2},{"h":56,"v":-4},{"h":57,"v":-41},{"h":58,"v":-18},{"h":59,"v":-6},
{"h":60,"v":-6},{"h":61,"v":3},{"h":62,"v":0},{"h":63,"v":0},{"h":64,"v":0},{"h":65,"v":-2},{"h":66,"v":-2},{"h":67,"v":-10},{"h":68,"v":-12},{"h":69,"v":-18},
{"h":70,"v":-10},{"h":71,"v":-6},{"h":72,"v":19},{"h":73,"v":12},{"h":74,"v":23},{"h":75,"v":17},{"h":76,"v":13},{"h":77,"v":17},{"h":78,"v":5},{"h":79,"v":5},
{"h":80,"v":9},{"h":81,"v":8},{"h":82,"v":-2},{"h":83,"v":5},{"h":84,"v":3},{"h":85,"v":2},{"h":86,"v":17},{"h":87,"v":3},{"h":88,"v":0},{"h":89,"v":2},
{"h":90,"v":2},{"h":91,"v":-4},{"h":92,"v":9},{"h":93,"v":5},{"h":94,"v":-8},{"h":95,"v":9}
],
"ratio":[
{"h":0,"v":0.85},{"h":1,"v":0.59},{"h":2,"v":0.22},{"h":3,"v":0.46},{"h":4,"v":0.73},{"h":5,"v":0.55},{"h":6,"v":1.0},{"h":7,"v":0.83},{"h":8,"v":1.2},{"h":9,"v":1.0},
{"h":10,"v":0.83},{"h":11,"v":0.69},{"h":12,"v":0.9},{"h":13,"v":1.23},{"h":14,"v":1.0},{"h":15,"v":0.9},{"h":16,"v":1.75},{"h":17,"v":1.62},{"h":18,"v":0.6},{"h":19,"v":1.0},
{"h":20,"v":0.44},{"h":21,"v":1.16},{"h":22,"v":2.55},{"h":23,"v":1.0},{"h":24,"v":0.65},{"h":25,"v":1.36},{"h":26,"v":1.0},{"h":27,"v":1.0},{"h":28,"v":1.16},{"h":29,"v":0.83},
{"h":30,"v":0.6},{"h":31,"v":0.57},{"h":32,"v":0.41},{"h":33,"v":0.39},{"h":34,"v":0.6},{"h":35,"v":0.85},{"h":36,"v":0.75},{"h":37,"v":1.5},{"h":38,"v":2.77},{"h":39,"v":2.55},
{"h":40,"v":2.45},{"h":41,"v":1.62},{"h":42,"v":1.3},{"h":43,"v":1.27},{"h":44,"v":1.27},{"h":45,"v":2.4},{"h":46,"v":4.2},{"h":47,"v":3.98},{"h":48,"v":3.98},{"h":49,"v":1.69},
{"h":50,"v":1.13},{"h":51,"v":1.27},{"h":52,"v":1.58},{"h":53,"v":1.35},{"h":54,"v":0.71},{"h":55,"v":0.96},{"h":56,"v":0.94},{"h":57,"v":0.47},{"h":58,"v":0.47},{"h":59,"v":0.71},
{"h":60,"v":0.68},{"h":61,"v":1.16},{"h":62,"v":1.0},{"h":63,"v":0.99},{"h":64,"v":0.9},{"h":65,"v":0.85},{"h":66,"v":0.85},{"h":67,"v":0.52},{"h":68,"v":0.52},{"h":69,"v":0.47},
{"h":70,"v":0.71},{"h":71,"v":0.85},{"h":72,"v":1.62},{"h":73,"v":1.2},{"h":74,"v":1.4},{"h":75,"v":1.27},{"h":76,"v":1.2},{"h":77,"v":1.27},{"h":78,"v":1.12},{"h":79,"v":1.12},
{"h":80,"v":1.12},{"h":81,"v":1.12},{"h":82,"v":0.99},{"h":83,"v":1.05},{"h":84,"v":1.05},{"h":85,"v":0.99},{"h":86,"v":1.24},{"h":87,"v":1.02},{"h":88,"v":0.99},{"h":89,"v":1.0},
{"h":90,"v":1.02},{"h":91,"v":0.96},{"h":92,"v":1.12},{"h":93,"v":1.05},{"h":94,"v":0.93},{"h":95,"v":1.09}
]
},
"resolve":{"scale":{"color":"shared"},"legend":{"color":"independent"}},
"vconcat":[
{
 "width":1053,"height":127,
 "title":{"text":"PM₂.₅ Inside 5ᵗʰ Ring, 2018","offset":11},
 "data":{"name":"inside"},
 "resolve":{"axis":{"x":"independent","y":"independent"}},
 "layer":[
  {"transform":[{"filter":"datum.s !== 'Median'"}],
   "mark":{"type":"line","strokeWidth":1.2,"clip":true},
   "encoding":{
    "x":{"field":"h","type":"quantitative","scale":{"domain":[0,95],"nice":false,"zero":false},"axis":{"orient":"bottom","values":[0,24,48,72],"labelExpr":"['00:00','Feb '+(14+datum.value/24)]","ticks":false,"title":null,"labelPadding":4,"labelFontSize":13,"labelLineHeight":13}},
    "y":{"field":"v","type":"quantitative","scale":{"domain":[0,500],"nice":false},"axis":{"orient":"left","values":[0,100,200,300,400,500],"ticks":false,"labelPadding":6,"labelFontSize":12.5,"title":"PM₂.₅ (μg/m³)","titleFontSize":13,"titleX":-45,"titleBaseline":"middle"}},
    "color":{"field":"s","type":"nominal","scale":{"domain":["Median","WSXG","DS","TT","NZG","GY","WL","ATZX","GC","DL","SY","HR","CP"],"range":["#000000","#f03232","#3c8cd2","#46b446","#a050c8","#ff9632","#b46e46","#ff78c8","#aaaaaa","#f03232","#3c8cd2","#46b446","#a050c8"]},
     "legend":{"values":["Median","WSXG","DS","TT","NZG","GY","WL","ATZX","GC"],"orient":"none","legendX":20,"legendY":12,"direction":"horizontal","columns":9,"gridAlign":"each","title":null,"symbolType":"stroke","symbolSize":2304,"symbolOffset":18,"symbolStrokeWidth":1.2,"labelFontSize":7.5,"labelOffset":27,"columnPadding":12,"padding":0,
      "encode":{"labels":{"update":{"fill":{"scale":"color","field":"value"}}},"symbols":{"update":{"strokeWidth":{"signal":"datum.value === 'Median' ? 3 : 1.2"}}}}}}
   }},
  {"transform":[{"filter":"datum.s === 'Median'"}],
   "mark":{"type":"line","color":"#000","strokeWidth":3,"clip":true},
   "encoding":{
    "x":{"field":"h","type":"quantitative","scale":{"domain":[0,95],"nice":false,"zero":false},"axis":{"orient":"bottom","values":[0,24,48,72],"tickSize":-12,"labels":false,"title":null}},
    "y":{"field":"v","type":"quantitative","scale":{"domain":[0,500],"nice":false},"axis":{"orient":"left","values":[0,100,200,300,400,500],"tickSize":-12,"labels":false,"title":null}}
   }},
  {"transform":[{"filter":"datum.s === 'Median' && datum.h === 0"}],
   "mark":{"type":"point","opacity":0},
   "encoding":{
    "x":{"field":"h","type":"quantitative","scale":{"domain":[0,95],"nice":false,"zero":false},"axis":{"orient":"bottom","values":[2,4,6,8,10,12,14,16,18,20,22,26,28,30,32,34,36,38,40,42,44,46,50,52,54,56,58,60,62,64,66,68,70,74,76,78,80,82,84,86,88,90,92,94],"tickSize":-6,"labels":false,"title":null}},
    "y":{"field":"v","type":"quantitative","scale":{"domain":[0,500],"nice":false},"axis":{"orient":"left","values":[10,20,30,40,50,60,70,80,90,110,120,130,140,150,160,170,180,190,210,220,230,240,250,260,270,280,290,310,320,330,340,350,360,370,380,390,410,420,430,440,450,460,470,480,490],"tickSize":-5,"tickColor":"#888","labels":false,"title":null}}
   }},
  {"transform":[{"filter":"datum.s === 'Median' && datum.h === 0"}],
   "mark":{"type":"point","opacity":0},
   "encoding":{
    "x":{"field":"h","type":"quantitative","scale":{"domain":[0,95],"nice":false,"zero":false},"axis":{"orient":"top","values":[0,24,48,72],"tickSize":-10,"labels":false,"title":null}},
    "y":{"field":"v","type":"quantitative","scale":{"domain":[0,500],"nice":false},"axis":{"orient":"right","values":[0,100,200,300,400,500],"tickSize":-12,"labels":false,"title":null}}
   }},
  {"transform":[{"filter":"datum.s === 'Median' && datum.h === 0"}],
   "mark":{"type":"point","opacity":0},
   "encoding":{
    "x":{"field":"h","type":"quantitative","scale":{"domain":[0,95],"nice":false,"zero":false},"axis":{"orient":"top","values":[2,4,6,8,10,12,14,16,18,20,22,26,28,30,32,34,36,38,40,42,44,46,50,52,54,56,58,60,62,64,66,68,70,74,76,78,80,82,84,86,88,90,92,94],"tickSize":-6,"labels":false,"title":null}},
    "y":{"field":"v","type":"quantitative","scale":{"domain":[0,500],"nice":false},"axis":{"orient":"right","values":[10,20,30,40,50,60,70,80,90,110,120,130,140,150,160,170,180,190,210,220,230,240,250,260,270,280,290,310,320,330,340,350,360,370,380,390,410,420,430,440,450,460,470,480,490],"tickSize":-5,"tickColor":"#888","labels":false,"title":null}}
   }}
 ]
},
{
 "width":1053,"height":127,
 "title":{"text":"PM₂.₅ Outside 5ᵗʰ Ring, 2018","offset":10},
 "data":{"name":"outside"},
 "resolve":{"axis":{"x":"independent","y":"independent"}},
 "layer":[
  {"transform":[{"filter":"datum.s !== 'Median'"}],
   "mark":{"type":"line","strokeWidth":1.2,"clip":true},
   "encoding":{
    "x":{"field":"h","type":"quantitative","scale":{"domain":[0,95],"nice":false,"zero":false},"axis":{"orient":"bottom","values":[0,24,48,72],"labelExpr":"['00:00','Feb '+(14+datum.value/24)]","ticks":false,"title":null,"labelPadding":3,"labelFontSize":11,"labelLineHeight":10}},
    "y":{"field":"v","type":"quantitative","scale":{"domain":[0,500],"nice":false},"axis":{"orient":"left","values":[0,100,200,300,400,500],"ticks":false,"labelPadding":6,"labelFontSize":12.5,"title":"PM₂.₅ (μg/m³)","titleFontSize":13,"titleX":-45,"titleBaseline":"middle"}},
    "color":{"field":"s","type":"nominal","scale":{"domain":["Median","WSXG","DS","TT","NZG","GY","WL","ATZX","GC","DL","SY","HR","CP"],"range":["#000000","#f03232","#3c8cd2","#46b446","#a050c8","#ff9632","#b46e46","#ff78c8","#aaaaaa","#f03232","#3c8cd2","#46b446","#a050c8"]},
     "legend":{"values":["Median","DL","SY","HR","CP"],"orient":"none","legendX":20,"legendY":10,"direction":"horizontal","columns":5,"gridAlign":"each","title":null,"symbolType":"stroke","symbolSize":2304,"symbolOffset":18,"symbolStrokeWidth":1.2,"labelFontSize":7.5,"labelOffset":27,"columnPadding":12,"padding":0,
      "encode":{"labels":{"update":{"fill":{"scale":"color","field":"value"}}},"symbols":{"update":{"strokeWidth":{"signal":"datum.value === 'Median' ? 3 : 1.2"}}}}}}
   }},
  {"transform":[{"filter":"datum.s === 'Median'"}],
   "mark":{"type":"line","color":"#000","strokeWidth":3,"clip":true},
   "encoding":{
    "x":{"field":"h","type":"quantitative","scale":{"domain":[0,95],"nice":false,"zero":false},"axis":{"orient":"bottom","values":[0,24,48,72],"tickSize":-12,"labels":false,"title":null}},
    "y":{"field":"v","type":"quantitative","scale":{"domain":[0,500],"nice":false},"axis":{"orient":"left","values":[0,100,200,300,400,500],"tickSize":-12,"labels":false,"title":null}}
   }},
  {"transform":[{"filter":"datum.s === 'Median' && datum.h === 0"}],
   "mark":{"type":"point","opacity":0},
   "encoding":{
    "x":{"field":"h","type":"quantitative","scale":{"domain":[0,95],"nice":false,"zero":false},"axis":{"orient":"bottom","values":[2,4,6,8,10,12,14,16,18,20,22,26,28,30,32,34,36,38,40,42,44,46,50,52,54,56,58,60,62,64,66,68,70,74,76,78,80,82,84,86,88,90,92,94],"tickSize":-6,"labels":false,"title":null}},
    "y":{"field":"v","type":"quantitative","scale":{"domain":[0,500],"nice":false},"axis":{"orient":"left","values":[10,20,30,40,50,60,70,80,90,110,120,130,140,150,160,170,180,190,210,220,230,240,250,260,270,280,290,310,320,330,340,350,360,370,380,390,410,420,430,440,450,460,470,480,490],"tickSize":-5,"tickColor":"#888","labels":false,"title":null}}
   }},
  {"transform":[{"filter":"datum.s === 'Median' && datum.h === 0"}],
   "mark":{"type":"point","opacity":0},
   "encoding":{
    "x":{"field":"h","type":"quantitative","scale":{"domain":[0,95],"nice":false,"zero":false},"axis":{"orient":"top","values":[0,24,48,72],"tickSize":-10,"labels":false,"title":null}},
    "y":{"field":"v","type":"quantitative","scale":{"domain":[0,500],"nice":false},"axis":{"orient":"right","values":[0,100,200,300,400,500],"tickSize":-12,"labels":false,"title":null}}
   }},
  {"transform":[{"filter":"datum.s === 'Median' && datum.h === 0"}],
   "mark":{"type":"point","opacity":0},
   "encoding":{
    "x":{"field":"h","type":"quantitative","scale":{"domain":[0,95],"nice":false,"zero":false},"axis":{"orient":"top","values":[2,4,6,8,10,12,14,16,18,20,22,26,28,30,32,34,36,38,40,42,44,46,50,52,54,56,58,60,62,64,66,68,70,74,76,78,80,82,84,86,88,90,92,94],"tickSize":-6,"labels":false,"title":null}},
    "y":{"field":"v","type":"quantitative","scale":{"domain":[0,500],"nice":false},"axis":{"orient":"right","values":[10,20,30,40,50,60,70,80,90,110,120,130,140,150,160,170,180,190,210,220,230,240,250,260,270,280,290,310,320,330,340,350,360,370,380,390,410,420,430,440,450,460,470,480,490],"tickSize":-5,"tickColor":"#888","labels":false,"title":null}}
   }},
  {"data":{"values":[{"t":"Figure S9:"}]},
   "mark":{"type":"text","font":"Liberation Serif","fontSize":23,"fontWeight":"bold","align":"left","baseline":"middle","color":"#000"},
   "encoding":{"text":{"field":"t"},"x":{"value":-57},"y":{"value":165}}},
  {"data":{"values":[{"t":"Timeseries\u2003of\u2003PM₂.₅\u2003\u2009measured\u2003at\u2003the\u200312\u2003MEP\u2003\u2009stations\u200348\u2003hours\u2003\u2009before\u2003through\u200348"}]},
   "mark":{"type":"text","font":"Liberation Serif","fontSize":23,"align":"left","baseline":"middle","color":"#000"},
   "encoding":{"text":{"field":"t"},"x":{"value":47},"y":{"value":165}}},
  {"data":{"values":[{"t":"hours after the CNY in 2018, inside the 5ᵗʰ Ring Road (top) and outside (bottom)."}]},
   "mark":{"type":"text","font":"Liberation Serif","fontSize":23,"align":"left","baseline":"middle","color":"#000"},
   "encoding":{"text":{"field":"t"},"x":{"value":-57},"y":{"value":191}}}
 ]
},
{
 "width":1053,"height":104,
 "view":{"stroke":null},
 "data":{"values":[{"t":""}]},
 "mark":{"type":"point","opacity":0}
},
{
 "width":1053,"height":127,
 "title":{"text":"PM₂.₅ Difference Inside – Outside 5ᵗʰ Ring, 2018","offset":8},
 "data":{"name":"diff"},
 "resolve":{"axis":{"x":"independent","y":"independent"}},
 "layer":[
  {"data":{"values":[{"r":0}]},
   "mark":{"type":"rule","color":"#aaaaaa","strokeWidth":1.5},
   "encoding":{"y":{"field":"r","type":"quantitative","scale":{"domain":[-50,250],"nice":false,"zero":false},"axis":null}}},
  {"mark":{"type":"line","color":"#000","strokeWidth":2.5,"clip":true},
   "encoding":{
    "x":{"field":"h","type":"quantitative","scale":{"domain":[0,95],"nice":false,"zero":false},"axis":{"orient":"bottom","values":[0,24,48,72],"labelExpr":"['00:00','Feb '+(14+datum.value/24)]","ticks":false,"title":null,"labelPadding":7,"labelFontSize":13,"labelLineHeight":13}},
    "y":{"field":"v","type":"quantitative","scale":{"domain":[-50,250],"nice":false,"zero":false},"axis":{"orient":"left","values":[0,50,100,150,200,250],"ticks":false,"labelPadding":6,"labelFontSize":12.5,"title":"Difference (μg/m³)","titleFontSize":15,"titleX":-50,"titleBaseline":"middle"}}
   }},
  {"transform":[{"filter":"datum.h === 0"}],
   "mark":{"type":"point","opacity":0},
   "encoding":{
    "x":{"field":"h","type":"quantitative","scale":{"domain":[0,95],"nice":false,"zero":false},"axis":{"orient":"bottom","values":[0,24,48,72],"tickSize":-12,"labels":false,"title":null}},
    "y":{"field":"v","type":"quantitative","scale":{"domain":[-50,250],"nice":false,"zero":false},"axis":{"orient":"left","values":[0,50,100,150,200,250],"tickSize":-12,"labels":false,"title":null}}
   }},
  {"transform":[{"filter":"datum.h === 0"}],
   "mark":{"type":"point","opacity":0},
   "encoding":{
    "x":{"field":"h","type":"quantitative","scale":{"domain":[0,95],"nice":false,"zero":false},"axis":{"orient":"bottom","values":[2,4,6,8,10,12,14,16,18,20,22,26,28,30,32,34,36,38,40,42,44,46,50,52,54,56,58,60,62,64,66,68,70,74,76,78,80,82,84,86,88,90,92,94],"tickSize":-6,"labels":false,"title":null}},
    "y":{"field":"v","type":"quantitative","scale":{"domain":[-50,250],"nice":false,"zero":false},"axis":{"orient":"left","values":[-40,-30,-20,-10,10,20,30,40,60,70,80,90,110,120,130,140,160,170,180,190,210,220,230,240],"tickSize":-5,"tickColor":"#888","labels":false,"title":null}}
   }},
  {"transform":[{"filter":"datum.h === 0"}],
   "mark":{"type":"point","opacity":0},
   "encoding":{
    "x":{"field":"h","type":"quantitative","scale":{"domain":[0,95],"nice":false,"zero":false},"axis":{"orient":"top","values":[0,24,48,72],"tickSize":-10,"labels":false,"title":null}},
    "y":{"field":"v","type":"quantitative","scale":{"domain":[-50,250],"nice":false,"zero":false},"axis":{"orient":"right","values":[0,50,100,150,200,250],"tickSize":-12,"labels":false,"title":null}}
   }},
  {"transform":[{"filter":"datum.h === 0"}],
   "mark":{"type":"point","opacity":0},
   "encoding":{
    "x":{"field":"h","type":"quantitative","scale":{"domain":[0,95],"nice":false,"zero":false},"axis":{"orient":"top","values":[2,4,6,8,10,12,14,16,18,20,22,26,28,30,32,34,36,38,40,42,44,46,50,52,54,56,58,60,62,64,66,68,70,74,76,78,80,82,84,86,88,90,92,94],"tickSize":-6,"labels":false,"title":null}},
    "y":{"field":"v","type":"quantitative","scale":{"domain":[-50,250],"nice":false,"zero":false},"axis":{"orient":"right","values":[-40,-30,-20,-10,10,20,30,40,60,70,80,90,110,120,130,140,160,170,180,190,210,220,230,240],"tickSize":-5,"tickColor":"#888","labels":false,"title":null}}
   }}
 ]
},
{
 "width":1053,"height":127,
 "title":{"text":"PM₂.₅ Relative Difference Inside/Outside 5ᵗʰ Ring, 2018","offset":8},
 "data":{"name":"ratio"},
 "resolve":{"axis":{"x":"independent","y":"independent"}},
 "layer":[
  {"data":{"values":[{"r":1}]},
   "mark":{"type":"rule","color":"#aaaaaa","strokeWidth":1.5},
   "encoding":{"y":{"field":"r","type":"quantitative","scale":{"type":"log","domain":[0.1,10],"nice":false},"axis":null}}},
  {"mark":{"type":"line","color":"#000","strokeWidth":2.5,"clip":true},
   "encoding":{
    "x":{"field":"h","type":"quantitative","scale":{"domain":[0,95],"nice":false,"zero":false},"axis":{"orient":"bottom","values":[0,24,48,72],"labelExpr":"['00:00','Feb '+(14+datum.value/24)]","ticks":false,"title":null,"labelPadding":4,"labelFontSize":13,"labelLineHeight":13}},
    "y":{"field":"v","type":"quantitative","scale":{"type":"log","domain":[0.1,10],"nice":false},"axis":{"orient":"left","values":[0.1,1,10],"format":".1f","ticks":false,"labelPadding":6,"labelFontSize":12,"title":null}}
   }},
  {"transform":[{"filter":"datum.h === 0"}],
   "mark":{"type":"point","opacity":0},
   "encoding":{
    "x":{"field":"h","type":"quantitative","scale":{"domain":[0,95],"nice":false,"zero":false},"axis":{"orient":"bottom","values":[0,24,48,72],"tickSize":-12,"labels":false,"title":null}},
    "y":{"field":"v","type":"quantitative","scale":{"type":"log","domain":[0.1,10],"nice":false},"axis":{"orient":"left","values":[0.1,1,10],"tickSize":-12,"labels":false,"title":null}}
   }},
  {"transform":[{"filter":"datum.h === 0"}],
   "mark":{"type":"point","opacity":0},
   "encoding":{
    "x":{"field":"h","type":"quantitative","scale":{"domain":[0,95],"nice":false,"zero":false},"axis":{"orient":"bottom","values":[2,4,6,8,10,12,14,16,18,20,22,26,28,30,32,34,36,38,40,42,44,46,50,52,54,56,58,60,62,64,66,68,70,74,76,78,80,82,84,86,88,90,92,94],"tickSize":-6,"labels":false,"title":null}},
    "y":{"field":"v","type":"quantitative","scale":{"type":"log","domain":[0.1,10],"nice":false},"axis":{"orient":"left","values":[0.2,0.3,0.4,0.5,0.6,0.7,0.8,0.9,2,3,4,5,6,7,8,9],"tickSize":-6,"tickColor":"#888","labels":false,"title":null}}
   }},
  {"transform":[{"filter":"datum.h === 0"}],
   "mark":{"type":"point","opacity":0},
   "encoding":{
    "x":{"field":"h","type":"quantitative","scale":{"domain":[0,95],"nice":false,"zero":false},"axis":{"orient":"top","values":[0,24,48,72],"tickSize":-10,"labels":false,"title":null}},
    "y":{"field":"v","type":"quantitative","scale":{"type":"log","domain":[0.1,10],"nice":false},"axis":{"orient":"right","values":[0.1,1,10],"tickSize":-12,"labels":false,"title":null}}
   }},
  {"transform":[{"filter":"datum.h === 0"}],
   "mark":{"type":"point","opacity":0},
   "encoding":{
    "x":{"field":"h","type":"quantitative","scale":{"domain":[0,95],"nice":false,"zero":false},"axis":{"orient":"top","values":[2,4,6,8,10,12,14,16,18,20,22,26,28,30,32,34,36,38,40,42,44,46,50,52,54,56,58,60,62,64,66,68,70,74,76,78,80,82,84,86,88,90,92,94],"tickSize":-6,"labels":false,"title":null}},
    "y":{"field":"v","type":"quantitative","scale":{"type":"log","domain":[0.1,10],"nice":false},"axis":{"orient":"right","values":[0.2,0.3,0.4,0.5,0.6,0.7,0.8,0.9,2,3,4,5,6,7,8,9],"tickSize":-6,"tickColor":"#888","labels":false,"title":null}}
   }}
 ]
}
]
}
